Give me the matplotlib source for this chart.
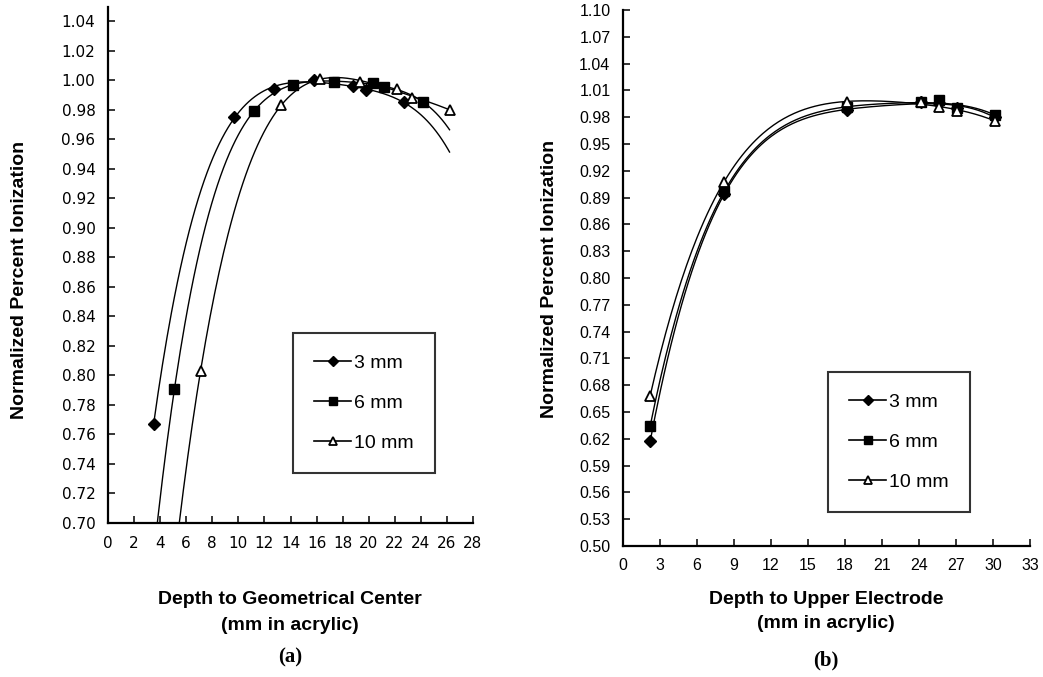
#!/usr/bin/env python3
"""Normalized percent ionization vs depth, panels (a) and (b)."""

import matplotlib

matplotlib.use("Agg")

import matplotlib.pyplot as plt
import numpy as np
from matplotlib.lines import Line2D

W, H = 1043, 677

# panel (a): depth to geometrical center
a_x3 = [3.5, 9.7, 12.7, 15.8, 18.8, 19.8, 22.7]
a_y3 = [0.767, 0.975, 0.994, 1.000, 0.996, 0.993, 0.985]
a_x6 = [5.1, 11.2, 14.2, 17.3, 20.3, 21.2, 24.2]
a_y6 = [0.791, 0.979, 0.997, 0.999, 0.998, 0.995, 0.985]
a_x10 = [7.1, 13.3, 16.3, 19.3, 22.2, 23.3, 26.2]
a_y10 = [0.803, 0.983, 1.001, 0.999, 0.994, 0.988, 0.980]

# panel (b): depth to upper electrode
b_x = [2.2, 8.2, 18.2, 24.2, 25.6, 27.1, 30.2]
b_y3 = [0.617, 0.894, 0.988, 0.997, 0.996, 0.990, 0.980]
b_y6 = [0.634, 0.897, 0.991, 0.997, 0.999, 0.990, 0.983]
b_y10 = [0.668, 0.908, 0.997, 0.997, 0.991, 0.987, 0.976]

LABELS = ["3 mm", "6 mm", "10 mm"]
a_yticks = np.round(np.arange(0.70, 1.041, 0.02), 2)
b_yticks = np.round(np.arange(0.50, 1.101, 0.03), 2)
a_xticks = np.arange(0, 29, 2)
b_xticks = np.arange(0, 34, 3)

MARKERS = [
    dict(marker="D", ms=6.5, mfc="black", mec="black"),
    dict(marker="s", ms=7, mfc="black", mec="black"),
    dict(marker="^", ms=7, mfc="white", mec="black", mew=1.3),
]


def fig_box(x0, y0, x1, y1):
    return [x0 / W, 1 - y1 / H, (x1 - x0) / W, (y1 - y0) / H]


def style_axes(ax, tick_family, tick_size):
    for side in ("top", "right"):
        ax.spines[side].set_visible(False)
    for side in ("left", "bottom"):
        ax.spines[side].set_linewidth(1.6)
    ax.tick_params(direction="in", length=5, width=1.1, pad=9)
    for lab in ax.get_xticklabels() + ax.get_yticklabels():
        lab.set_family(tick_family)
        lab.set_fontsize(tick_size)


def trend(ax, x, y, x_lo, x_hi):
    # 4th-order polynomial trendline, as in the original spreadsheet chart
    coef = np.polyfit(x, y, 4)
    xs = np.linspace(x_lo, x_hi, 200)
    ax.plot(xs, np.polyval(coef, xs), color="black", lw=1.0)


def legend(ax, box):
    handles = [
        Line2D([], [], color="black", lw=1.2, **{**m, "ms": 5.5 if m["marker"] != "s" else 6})
        for m in MARKERS
    ]
    x0, y0 = box
    leg = ax.legend(
        handles,
        LABELS,
        loc="upper left",
        bbox_to_anchor=(x0 / W, 1 - y0 / H),
        bbox_transform=ax.figure.transFigure,
        borderaxespad=0,
        frameon=True,
        fancybox=False,
        edgecolor="black",
        prop={"family": "Liberation Sans", "size": 14},
        handlelength=1.9,
        handletextpad=0.15,
        labelspacing=1.15,
        borderpad=1.1,
    )
    leg.get_frame().set_linewidth(1.5)


fig = plt.figure(figsize=(W / 100, H / 100), dpi=100)

# ---- panel (a)
axa = fig.add_axes(fig_box(108, 7, 473, 523))
series_a = [(a_x3, a_y3), (a_x6, a_y6), (a_x10, a_y10)]
for (x, y), m in zip(series_a, MARKERS):
    trend(axa, x, y, 3.5, 26.2)
    axa.plot(x, y, ls="none", **m)
axa.set_xlim(0, 28)
axa.set_ylim(0.70, 1.0495)
axa.set_xticks(a_xticks)
axa.set_yticks(a_yticks)
axa.set_yticklabels([f"{v:.2f}" for v in a_yticks])
style_axes(axa, "DejaVu Sans", 11)
legend(axa, (293, 333))

# ---- panel (b)
axb = fig.add_axes(fig_box(623, 10, 1030, 546))
for y, m in zip([b_y3, b_y6, b_y10], MARKERS):
    trend(axb, b_x, y, b_x[0], b_x[-1])
    axb.plot(b_x, y, ls="none", **m)
axb.set_xlim(0, 33)
axb.set_ylim(0.50, 1.10)
axb.set_xticks(b_xticks)
axb.set_yticks(b_yticks)
axb.set_yticklabels([f"{v:.2f}" for v in b_yticks])
style_axes(axb, "Liberation Sans", 11.5)
legend(axb, (828, 372))

# ---- labels
lab = dict(family="Liberation Sans", fontweight="bold", fontsize=14, ha="center", va="center")
fig.text(20 / W, 1 - 280 / H, "Normalized Percent Ionization", rotation=90, **lab)
fig.text(550 / W, 1 - 279 / H, "Normalized Percent Ionization", rotation=90, **lab)
fig.text(290 / W, 1 - 600 / H, "Depth to Geometrical Center", **lab)
fig.text(290 / W, 1 - 625 / H, "(mm in acrylic)", **lab)
fig.text(826 / W, 1 - 599 / H, "Depth to Upper Electrode", **lab)
fig.text(826 / W, 1 - 624 / H, "(mm in acrylic)", **lab)
tag = dict(family="Liberation Serif", fontweight="bold", fontsize=15, ha="center", va="center")
fig.text(290 / W, 1 - 657 / H, "(a)", **tag)
fig.text(826 / W, 1 - 660 / H, "(b)", **tag)

fig.savefig("out.png", dpi=100)
